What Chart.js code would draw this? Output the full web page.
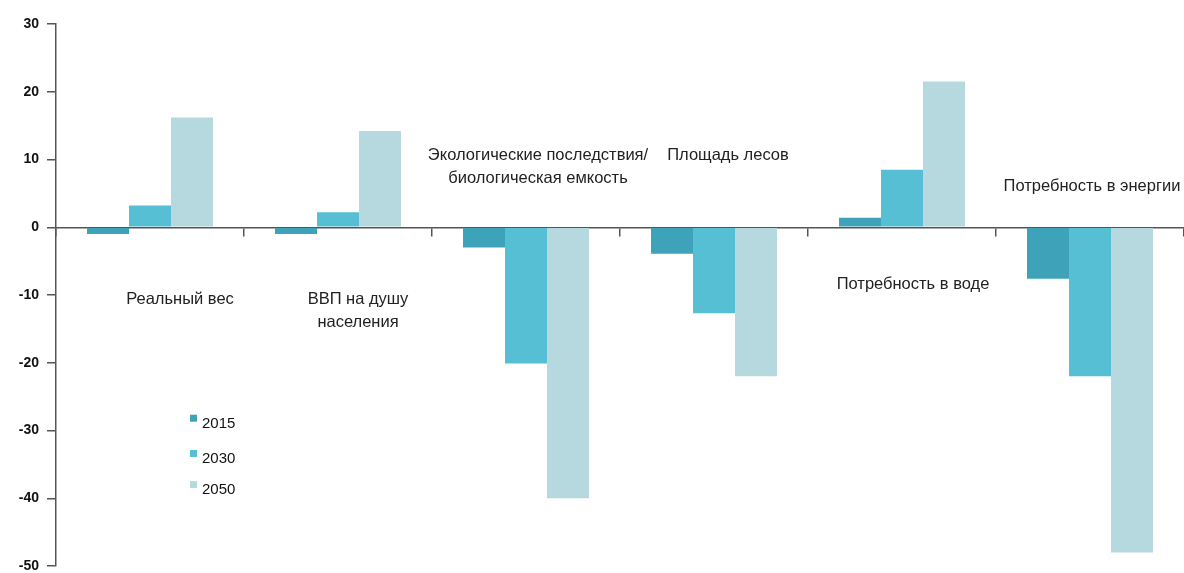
<!DOCTYPE html>
<html>
<head>
<meta charset="utf-8">
<script src="https://cdn.jsdelivr.net/npm/chart.js@4.4.1/dist/chart.umd.min.js"></script>
<style>
  html, body { margin: 0; padding: 0; background: #fff; }
  #wrap { width: 1184px; height: 573px; position: relative; }
</style>
</head>
<body>
<div id="wrap"><canvas id="chart"></canvas></div>
<script>
// categories (label lines) and series values
const categories = [
  ["Реальный вес"],
  ["ВВП на душу", "населения"],
  ["Экологические последствия/", "биологическая емкость"],
  ["Площадь лесов"],
  ["Потребность в воде"],
  ["Потребность в энергии"]
];
const years = ["2015", "2030", "2050"];
const values2015 = [-1.0, -1.0, -3.0, -3.9, 1.4, -7.6];
const values2030 = [3.2, 2.2, -20.1, -12.7, 8.5, -22.0];
const values2050 = [16.2, 14.2, -40.0, -22.0, 21.5, -48.0];
const yTicks = [30, 20, 10, 0, -10, -20, -30, -40, -50];

const colors = ["#3ea3b9", "#56bfd4", "#b5d9df"];

// where each category caption sits: x offset from the category centre (px), y value on the axis
const captionPlace = [
  { dx: 30, y: -10.6 },
  { dx: 20, y: -10.6 },
  { dx: 12, y: 10.6 },
  { dx: 14, y: 10.6 },
  { dx: 11, y: -8.5 },
  { dx: 2, y: 6.0 }
];

const captions = {
  id: "captions",
  afterDatasetsDraw(chart) {
    const { ctx, scales: { x, y } } = chart;
    ctx.save();
    ctx.font = "16.5px 'Liberation Sans', Arial, sans-serif";
    ctx.fillStyle = "#222";
    ctx.textAlign = "center";
    ctx.textBaseline = "middle";
    categories.forEach((lines, i) => {
      const p = captionPlace[i];
      const cx = x.getPixelForValue(i) + p.dx;
      const cy = y.getPixelForValue(p.y);
      lines.forEach((t, k) => ctx.fillText(t, cx, cy + k * 23));
    });

    // legend inside the plot
    const legendY = [-29.0, -34.2, -38.8];
    ctx.font = "15px 'Liberation Sans', Arial, sans-serif";
    ctx.textAlign = "left";
    chart.data.datasets.forEach((ds, i) => {
      const ly = y.getPixelForValue(legendY[i]);
      ctx.fillStyle = ds.backgroundColor;
      ctx.fillRect(190, ly - 9, 7, 7);
      ctx.fillStyle = "#111";
      ctx.fillText(ds.label, 202, ly);
    });
    ctx.restore();
  }
};

new Chart(document.getElementById("chart"), {
  type: "bar",
  data: {
    labels: categories,
    datasets: [
      { label: years[0], data: values2015, backgroundColor: colors[0] },
      { label: years[1], data: values2030, backgroundColor: colors[1] },
      { label: years[2], data: values2050, backgroundColor: colors[2] }
    ]
  },
  options: {
    responsive: true,
    maintainAspectRatio: false,
    animation: false,
    layout: { padding: { top: 24, bottom: 7, right: 0, left: 0 } },
    datasets: { bar: { categoryPercentage: 0.67, barPercentage: 1.0 } },
    plugins: { legend: { display: false }, tooltip: { enabled: false } },
    scales: {
      x: {
        position: { y: 0 },
        afterFit: (s) => { s.height = 0; },
        grid: { drawOnChartArea: false, drawTicks: true, tickLength: 8, color: "#555", lineWidth: 1.5, offset: true },
        border: { display: true, color: "#555", width: 1.5 },
        ticks: { display: false }
      },
      y: {
        min: -50,
        max: 30,
        afterBuildTicks: (s) => { s.ticks = yTicks.map(v => ({ value: v })); },
        afterFit: (s) => { s.width = 56; s.paddingTop = 0; s.paddingBottom = 0; },
        grid: { drawOnChartArea: false, drawTicks: true, tickLength: 9, color: "#555", lineWidth: 1.5 },
        border: { display: true, color: "#555", width: 1.5 },
        ticks: {
          color: "#111",
          padding: 8,
          font: { family: "'Liberation Sans', Arial, sans-serif", size: 14, weight: "bold" }
        }
      }
    }
  },
  plugins: [captions]
});
</script>
</body>
</html>
